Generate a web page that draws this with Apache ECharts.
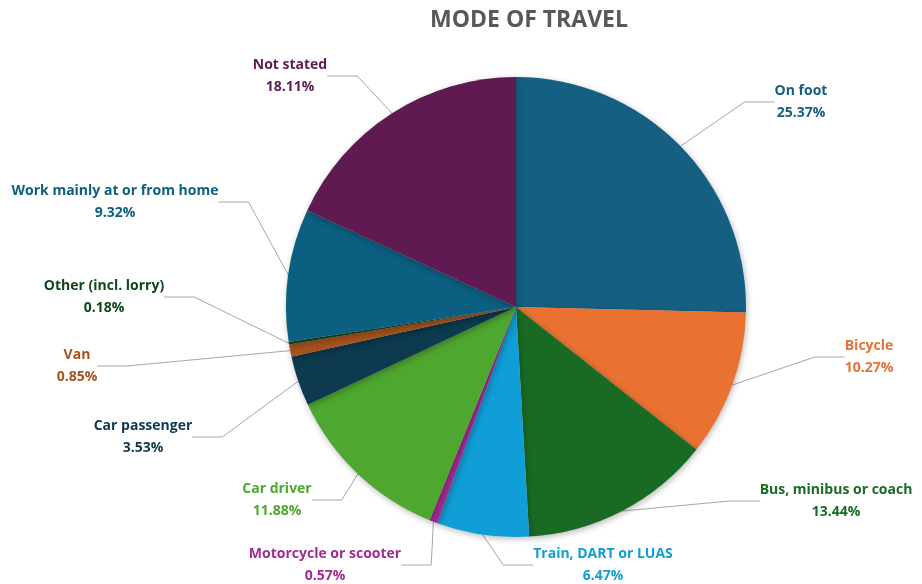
<!DOCTYPE html>
<html>
<head>
<meta charset="utf-8">
<script src="https://cdn.jsdelivr.net/npm/echarts@6/dist/echarts.min.js"></script>
<style>
  html, body { margin: 0; padding: 0; background: #fff; }
  #chart { width: 922px; height: 584px; }
</style>
</head>
<body>
<div id="chart"></div>
<script>
// Share of journeys by mode of travel (percent)
const categories = [
  'On foot', 'Bicycle', 'Bus, minibus or coach', 'Train, DART or LUAS',
  'Motorcycle or scooter', 'Car driver', 'Car passenger', 'Van',
  'Other (incl. lorry)', 'Work mainly at or from home', 'Not stated'
];
const shares = [25.37, 10.27, 13.44, 6.47, 0.57, 11.88, 3.53, 0.85, 0.18, 9.32, 18.11];

// Slice / label colours
const palette = [
  '#156082', '#E97132', '#196B24', '#0F9ED5', '#A02B93', '#4EA72E',
  '#0D3A4E', '#A5521E', '#10461A', '#0B5F80', '#5F1A52'
];

// Centre of each label block (px)
const labelSpots = [
  [801, 102], [869, 357], [836, 501], [603, 565], [325, 565], [277, 500],
  [143, 437], [77, 366], [104, 297], [115, 202], [290, 76]
];

const chart = echarts.init(document.getElementById('chart'));
chart.setOption({
  backgroundColor: '#ffffff',
  title: {
    text: 'MODE OF TRAVEL',
    left: 524,
    textAlign: 'center',
    top: 4,
    textStyle: { fontFamily: 'Open Sans', fontWeight: 'bold', fontSize: 23, color: '#595959' }
  },
  series: [{
    type: 'pie',
    center: [516, 307],
    radius: 230,
    startAngle: 90,
    clockwise: true,
    avoidLabelOverlap: false,
    animation: false,
    itemStyle: {
      borderWidth: 0,
      shadowBlur: 6,
      shadowColor: 'rgba(0,0,0,0.28)',
      shadowOffsetX: 1,
      shadowOffsetY: 2
    },
    label: {
      show: true,
      position: 'outside',
      fontFamily: 'Open Sans',
      fontWeight: 'bold',
      fontSize: 14,
      lineHeight: 22,
      align: 'center',
      formatter: p => p.name + '\n' + p.value.toFixed(2) + '%'
    },
    labelLine: {
      show: true,
      lineStyle: { color: '#a6a6a6', width: 1 }
    },
    labelLayout: p => ({
      x: labelSpots[p.dataIndex][0],
      y: labelSpots[p.dataIndex][1],
      align: 'center',
      verticalAlign: 'middle'
    }),
    data: categories.map((name, i) => ({
      name,
      value: shares[i],
      itemStyle: { color: palette[i] },
      label: { color: palette[i] }
    }))
  }]
});
</script>
</body>
</html>
